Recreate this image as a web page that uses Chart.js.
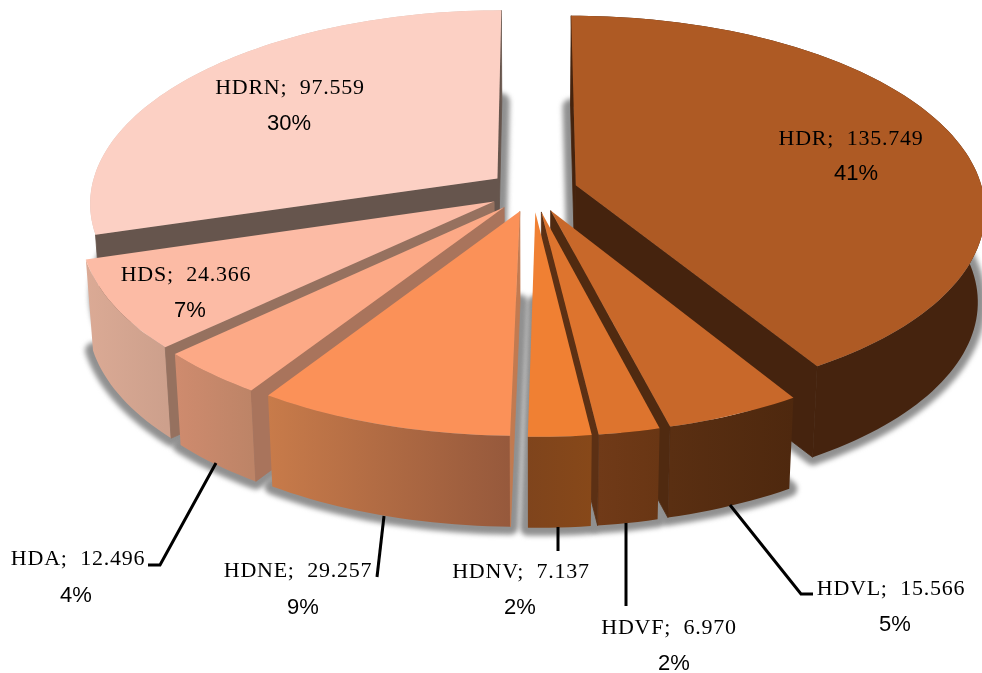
<!DOCTYPE html>
<html>
<head>
<meta charset="utf-8">
<style>
  html, body { margin: 0; padding: 0; background: #fff; }
  canvas { display: block; }
</style>
<script src="https://cdn.jsdelivr.net/npm/chart.js@4"></script>
</head>
<body>
<canvas id="pieChart" width="982" height="673"></canvas>
<script>
// data, clockwise from 12 o'clock
const categories = ["HDR", "HDVL", "HDVF", "HDNV", "HDNE", "HDA", "HDS", "HDRN"];
const values = [135749, 15566, 6970, 7137, 29257, 12496, 24366, 97559];
const valueLabels = ["135.749", "15.566", "6.970", "7.137", "29.257", "12.496", "24.366", "97.559"];
const percentLabels = ["41%", "5%", "2%", "2%", "9%", "4%", "7%", "30%"];

// colours per slice
const topColors = ["#ae5a24", "#c8682a", "#dd742e", "#f08033", "#fb9158", "#fca986", "#fcbba5", "#fcd0c4"];
const cutColors = ["#45230e", "#502a10", "#5c3014", "#6a3814", "#c27a50", "#a9745c", "#96715f", "#66554d"];
const wallLeft = ["#45230e", "#5a2f12", "#703a18", "#7f441c", "#c87b4a", "#cf8b6e", "#dbaa95", "#d9bfb4"];
const wallRight = ["#45230e", "#4e280e", "#693614", "#874819", "#96593c", "#bd8467", "#cda08c", "#d9bfb4"];

// where the texts and leader lines sit
const labelPos = [[851, 139], [891, 589], [669, 628], [521, 572], [298, 571], [78, 559], [186, 275], [290, 88]];
const percentPos = [[856, 174], [895, 625], [674, 664], [520, 608], [303, 608], [76, 596], [190, 311], [289, 124]];
const leaders = [
  [[216, 463], [160, 565], [148, 565]],
  [[384, 516], [377, 577]],
  [[558, 527], [558, 551]],
  [[626, 523], [626, 606]],
  [[730, 505], [801, 594], [813, 594]],
];

// paint order, so the nearer slices cover the ones behind
const paintOrder = [7, 0, 6, 5, 4, 1, 2, 3];

// fake 3D camera, tuned by eye against the picture
const view = { cx: 533, cy: 191, rx: 407, ry: 191.6, persp: 0.122, depth: 91, bottomScale: 0.984 };

function project(u, v) {
  const s = 1 / (1 - view.persp * v);
  return [view.cx + u * view.rx * s, view.cy + v * view.ry * s];
}

function toBottom(p) {
  return [view.cx + (p[0] - view.cx) * view.bottomScale, p[1] + view.depth];
}

// outline of one arc from the chart, in screen space
function sliceOutline(arc) {
  const R = arc.outerRadius;
  const mid = (arc.startAngle + arc.endAngle) / 2;
  const off = arc.options.offset / R;
  const ou = Math.cos(mid) * off;
  const ov = Math.sin(mid) * off;
  const steps = Math.max(6, Math.ceil((arc.endAngle - arc.startAngle) * 40));
  const rim = [];
  for (let i = 0; i <= steps; i++) {
    const a = arc.startAngle + (arc.endAngle - arc.startAngle) * i / steps;
    rim.push(project(ou + Math.cos(a), ov + Math.sin(a)));
  }
  return { apex: project(ou, ov), rim };
}

function fillPoly(ctx, pts, color, seal) {
  ctx.beginPath();
  pts.forEach((p, i) => (i ? ctx.lineTo(p[0], p[1]) : ctx.moveTo(p[0], p[1])));
  ctx.closePath();
  ctx.fillStyle = color;
  ctx.fill();
  if (seal) {
    // hides the hairline between two faces of the same colour
    ctx.strokeStyle = color;
    ctx.lineWidth = 0.8;
    ctx.stroke();
  }
}

function drawShadows(ctx, outlines) {
  ctx.save();
  ctx.filter = "blur(2.5px)";
  ctx.strokeStyle = "#909090";
  ctx.lineWidth = 16;
  ctx.lineJoin = "round";
  outlines.forEach((o) => {
    const pts = [o.apex, ...o.rim].map(toBottom);
    fillPoly(ctx, pts, "#909090");
    ctx.stroke();
  });
  ctx.restore();
}

// a cut face only shows when the slice lies above its edge
function cutVisible(apex, p, inner) {
  const ex = p[0] - apex[0];
  const ey = p[1] - apex[1];
  const cross = ex * (inner[1] - apex[1]) - ey * (inner[0] - apex[0]);
  return ex * cross < 0;
}

function drawSlice(ctx, o, i) {
  const { apex, rim } = o;
  const first = rim[0];
  const last = rim[rim.length - 1];
  const inner = rim[Math.floor(rim.length / 2)];

  // outer wall
  const xs = rim.map((p) => p[0]);
  const grad = ctx.createLinearGradient(Math.min(...xs), 0, Math.max(...xs), 0);
  grad.addColorStop(0, wallLeft[i]);
  grad.addColorStop(1, wallRight[i]);
  fillPoly(ctx, [...rim, ...rim.slice().reverse().map(toBottom)], grad);

  // the two cut faces
  if (cutVisible(apex, first, inner)) {
    fillPoly(ctx, [apex, first, toBottom(first), toBottom(apex)], cutColors[i], true);
  }
  if (cutVisible(apex, last, inner)) {
    fillPoly(ctx, [apex, last, toBottom(last), toBottom(apex)], cutColors[i], true);
  }

  // top face
  fillPoly(ctx, [apex, ...rim], topColors[i]);
}

const pie3d = {
  id: "pie3d",
  beforeDatasetDraw(chart) {
    const ctx = chart.ctx;
    const arcs = chart.getDatasetMeta(0).data;
    const outlines = arcs.map(sliceOutline);
    drawShadows(ctx, outlines);
    paintOrder.forEach((i) => drawSlice(ctx, outlines[i], i));
    return false;
  },
  afterDraw(chart) {
    const ctx = chart.ctx;
    ctx.save();
    ctx.strokeStyle = "#000";
    ctx.lineWidth = 3;
    leaders.forEach((line) => {
      ctx.beginPath();
      line.forEach((p, i) => (i ? ctx.lineTo(p[0], p[1]) : ctx.moveTo(p[0], p[1])));
      ctx.stroke();
    });
    ctx.fillStyle = "#000";
    ctx.textAlign = "center";
    ctx.textBaseline = "middle";
    categories.forEach((name, i) => {
      ctx.font = '22px "Liberation Serif"';
      ctx.letterSpacing = "0.75px";
      ctx.fillText(name + ";  " + valueLabels[i], labelPos[i][0], labelPos[i][1]);
      ctx.font = '22px "Liberation Sans"';
      ctx.letterSpacing = "0px";
      ctx.fillText(percentLabels[i], percentPos[i][0], percentPos[i][1]);
    });
    ctx.restore();
  },
};

new Chart(document.getElementById("pieChart"), {
  type: "pie",
  data: {
    labels: categories,
    datasets: [{
      data: values,
      backgroundColor: topColors,
      borderWidth: 0,
      offset: 35,
    }],
  },
  options: {
    responsive: false,
    animation: false,
    plugins: { legend: { display: false }, tooltip: { enabled: false } },
  },
  plugins: [pie3d],
});
</script>
</body>
</html>
